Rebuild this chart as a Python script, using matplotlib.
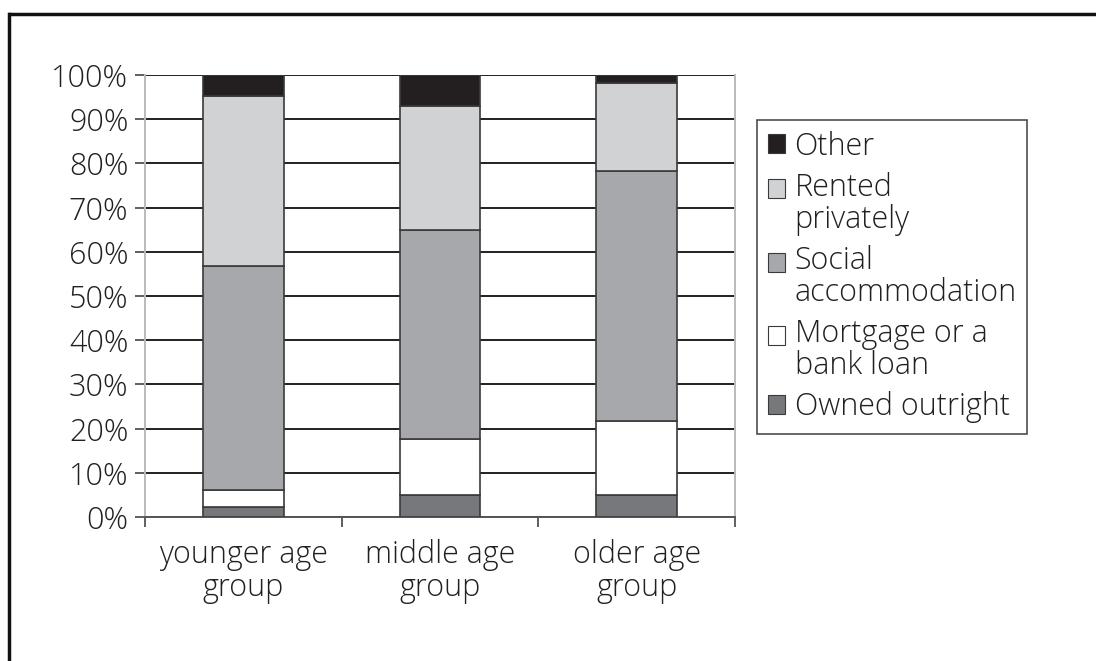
# Housing tenure by age group - stacked percentage bars

import matplotlib.pyplot as plt
import matplotlib.patches as mpatches
from matplotlib.lines import Line2D
from matplotlib.legend_handler import HandlerPatch
import numpy as np

plt.rcParams['font.family'] = ['Open Sans', 'DejaVu Sans']
plt.rcParams['font.weight'] = 'light'

groups = ["younger age\ngroup", "middle age\ngroup", "older age\ngroup"]
series = ["Owned outright", "Mortgage or a\nbank loan", "Social\naccommodation",
          "Rented\nprivately", "Other"]
owned = [2.3, 5, 5]
mortgage = [3.7, 12.7, 16.8]
social = [50.7, 47.3, 56.5]
rented = [38.6, 28.1, 19.8]
other = [4.7, 6.9, 1.9]
colors = ['#77787b', '#ffffff', '#a7a8ab', '#d1d2d4', '#231f20']
yticks = [0, 10, 20, 30, 40, 50, 60, 70, 80, 90, 100]

txt = '#231f20'
fs = 22
fig = plt.figure(figsize=(10.96, 6.61), dpi=100)
ax = fig.add_axes([0.1323, 0.2179, 0.5383, 0.6686])

x = np.arange(len(groups))
bottom = np.zeros(len(groups))
handles = []
for vals, lab, c in zip([owned, mortgage, social, rented, other], series, colors):
    ax.bar(x, vals, 0.41, bottom=bottom, color=c, edgecolor='#3a3a3a',
           linewidth=1.2, zorder=3)
    handles.append(mpatches.Patch(facecolor=c, edgecolor='#3a3a3a', linewidth=0.8, label=lab))
    bottom += np.array(vals)

ax.set_xlim(-0.5, 2.5)
ax.set_ylim(0, 100)
ax.set_yticks(yticks)
ax.set_yticklabels([f"{v}%" for v in yticks], fontsize=fs, color=txt)
ax.yaxis.grid(True, color='#231f20', linewidth=1.4, zorder=0)
ax.set_axisbelow(True)

ax.set_xticks(x)
ax.set_xticklabels(groups, fontsize=fs, color=txt, linespacing=1.05)
ax.set_xticks([-0.5, 0.5, 1.5, 2.5], minor=True)
ax.tick_params(axis='x', which='major', length=0, pad=16)
ax.tick_params(axis='x', which='minor', length=7, width=1.2, color='#444444', direction='out')
ax.tick_params(axis='y', length=7, width=1.2, color='#444444', pad=5)

ax.spines['top'].set_visible(False)
for s in ['left', 'right']:
    ax.spines[s].set_color('#bbbbbb')
    ax.spines[s].set_linewidth(1.4)
ax.spines['bottom'].set_color('#555555')
ax.spines['bottom'].set_linewidth(1.4)


# legend squares sit next to the first line of two-line labels
def top_square(legend, orig_handle, xdescent, ydescent, width, height, fontsize):
    shift = 0.0
    if "\n" in orig_handle.get_label():
        shift = 0.53 * fontsize
    return mpatches.Rectangle((-xdescent, -ydescent + shift), width, height)


leg = fig.legend(handles[::-1], series[::-1], loc='upper left',
                 bbox_to_anchor=(757 / 1096, 1 - 120 / 661), fontsize=fs,
                 frameon=True, fancybox=False, edgecolor='#231f20',
                 handlelength=0.58, handleheight=0.58, handletextpad=0.3,
                 labelspacing=0.3, borderpad=0.35, borderaxespad=0,
                 labelcolor=txt,
                 handler_map={mpatches.Patch: HandlerPatch(patch_func=top_square)})
leg.get_frame().set_linewidth(1.2)
for t in leg.get_texts():
    t.set_linespacing(1.0)

# outer frame (only top and left edges are visible in the source)
fig.add_artist(Line2D([9 / 1096, 9 / 1096], [0, 1 - 14 / 661], transform=fig.transFigure,
                      color='#111111', linewidth=2.5))
fig.add_artist(Line2D([8 / 1096, 1], [1 - 14 / 661, 1 - 14 / 661], transform=fig.transFigure,
                      color='#111111', linewidth=2.5, solid_capstyle='butt'))

fig.savefig("out.png", dpi=100)
